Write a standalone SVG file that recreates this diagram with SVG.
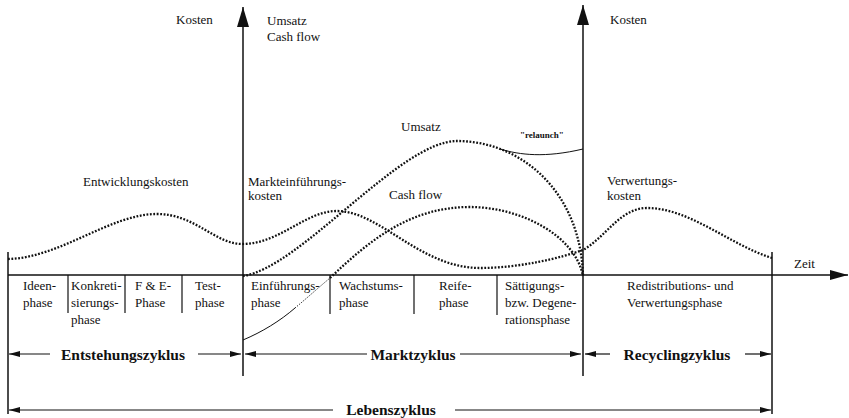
<svg xmlns="http://www.w3.org/2000/svg" width="849" height="418" viewBox="0 0 849 418" font-family="'Liberation Serif', 'DejaVu Serif', serif">
<style>
text{font-family:'Liberation Serif','DejaVu Serif',serif;fill:#111}
.t{font-size:13px}
.c{font-size:15.5px;font-weight:bold;text-anchor:middle}
.r{font-size:9px;font-weight:bold}
.ax{stroke:#111;stroke-width:1.5;fill:none}
.ln{stroke:#111;stroke-width:1.2;fill:none}
.dot{stroke:#111;stroke-width:2.3;fill:none;stroke-dasharray:1.8 1.6}
.fine{stroke:#111;stroke-width:1;fill:none;stroke-dasharray:1.2 1.5}
.thin{stroke:#111;stroke-width:1;fill:none}
</style>
<defs>
<marker id="big" markerUnits="userSpaceOnUse" markerWidth="20" markerHeight="12" refX="20" refY="6" orient="auto"><path d="M0,0 L20,6 L0,12 z" fill="#111"/></marker>
<marker id="zeit" markerUnits="userSpaceOnUse" markerWidth="18" markerHeight="10" refX="18" refY="5" orient="auto"><path d="M0,0 L18,5 L0,10 z" fill="#111"/></marker>
<marker id="sm" markerUnits="userSpaceOnUse" markerWidth="11" markerHeight="6" refX="11" refY="3" orient="auto"><path d="M0,0 L11,3 L0,6 z" fill="#111"/></marker>
</defs>
<g id="connectors">
<line class="ax" x1="243" y1="376" x2="243" y2="7" marker-end="url(#big)"/>
<line class="ax" x1="583" y1="376" x2="583" y2="5" marker-end="url(#big)"/>
<line class="ax" x1="8" y1="275" x2="848" y2="275" marker-end="url(#zeit)"/>
<line class="ax" x1="8" y1="252" x2="8" y2="414"/>
<line class="ax" x1="772" y1="252" x2="772" y2="414"/>
<g class="ln">
<line x1="68" y1="275" x2="68" y2="313"/>
<line x1="125" y1="275" x2="125" y2="313"/>
<line x1="182" y1="275" x2="182" y2="313"/>
<line x1="330" y1="275" x2="330" y2="314"/>
<line x1="414" y1="275" x2="414" y2="314"/>
<line x1="497" y1="275" x2="497" y2="315"/>
</g>
<line class="ln" x1="50" y1="354" x2="9" y2="354" marker-end="url(#sm)"/>
<line class="ln" x1="198" y1="354" x2="241" y2="354" marker-end="url(#sm)"/>
<line class="ln" x1="367" y1="354" x2="245" y2="354" marker-end="url(#sm)"/>
<line class="ln" x1="460" y1="354" x2="581" y2="354" marker-end="url(#sm)"/>
<line class="ln" x1="610" y1="354" x2="585" y2="354" marker-end="url(#sm)"/>
<line class="ln" x1="745" y1="354" x2="771" y2="354" marker-end="url(#sm)"/>
<line class="ln" x1="333" y1="410" x2="9" y2="410" marker-end="url(#sm)"/>
<line class="ln" x1="455" y1="410" x2="771" y2="410" marker-end="url(#sm)"/>
</g>
<g id="curves">
<path id="kosten-curve" class="dot" d="M8,259 C60,258 110,214 157,214 C195,214 215,244 242,244 C280,244 305,211 337,211 C380,211 420,268 480,268 C520,268 560,258 583,250 C605,238 620,208 647,208 C690,208 730,245 772,258"/>
<path id="umsatz-curve" class="dot" d="M243,276 C300,268 400,141 457,141 C520,141 580,190 583,275"/>
<path id="relaunch-curve" class="thin" d="M500,149 C520,155 545,158 583,149"/>
<path id="cashflow-neg" class="thin" d="M243,340 C262,332 280,321 295,308"/>
<path id="cashflow-fine" class="fine" d="M295,308 C307,298 318,288 330,278"/>
<path id="cashflow-curve" class="dot" d="M330,278 C370,240 410,207 470,207 C520,207 575,235 583,276"/>
</g>
<g id="axis-labels">
<text class="t" x="176" y="24">Kosten</text>
<text class="t" x="267" y="25">Umsatz</text>
<text class="t" x="267" y="41">Cash flow</text>
<text class="t" x="610" y="24">Kosten</text>
<text class="t" x="794" y="268">Zeit</text>
</g>
<g id="curve-labels">
<text class="t" x="83" y="186">Entwicklungskosten</text>
<text class="t" x="248" y="186">Markteinführungs-</text>
<text class="t" x="248" y="200">kosten</text>
<text class="t" x="389" y="199">Cash flow</text>
<text class="t" x="401" y="131">Umsatz</text>
<text class="r" x="520" y="138">"relaunch"</text>
<text class="t" x="607" y="185">Verwertungs-</text>
<text class="t" x="607" y="200">kosten</text>
</g>
<g id="phase-ideen"><text class="t" x="23" y="290">Ideen-</text><text class="t" x="23" y="307">phase</text></g>
<g id="phase-konkret"><text class="t" x="71" y="290">Konkreti-</text><text class="t" x="71" y="307">sierungs-</text><text class="t" x="71" y="324">phase</text></g>
<g id="phase-fe"><text class="t" x="135" y="290">F &amp; E-</text><text class="t" x="135" y="307">Phase</text></g>
<g id="phase-test"><text class="t" x="195" y="290">Test-</text><text class="t" x="195" y="307">phase</text></g>
<g id="phase-einf"><text class="t" x="251" y="290">Einführungs-</text><text class="t" x="251" y="307">phase</text></g>
<g id="phase-wachs"><text class="t" x="339" y="290">Wachstums-</text><text class="t" x="339" y="307">phase</text></g>
<g id="phase-reife"><text class="t" x="439" y="290">Reife-</text><text class="t" x="439" y="307">phase</text></g>
<g id="phase-saett"><text class="t" x="505" y="290">Sättigungs-</text><text class="t" x="505" y="307">bzw. Degene-</text><text class="t" x="505" y="324">rationsphase</text></g>
<g id="phase-redis"><text class="t" x="627" y="290">Redistributions- und</text><text class="t" x="627" y="307">Verwertungsphase</text></g>
<g id="cycles">
<text class="c" x="123" y="360">Entstehungszyklus</text>
<text class="c" x="413" y="360">Marktzyklus</text>
<text class="c" x="677" y="360">Recyclingzyklus</text>
<text class="c" x="391" y="415">Lebenszyklus</text>
</g>
</svg>
